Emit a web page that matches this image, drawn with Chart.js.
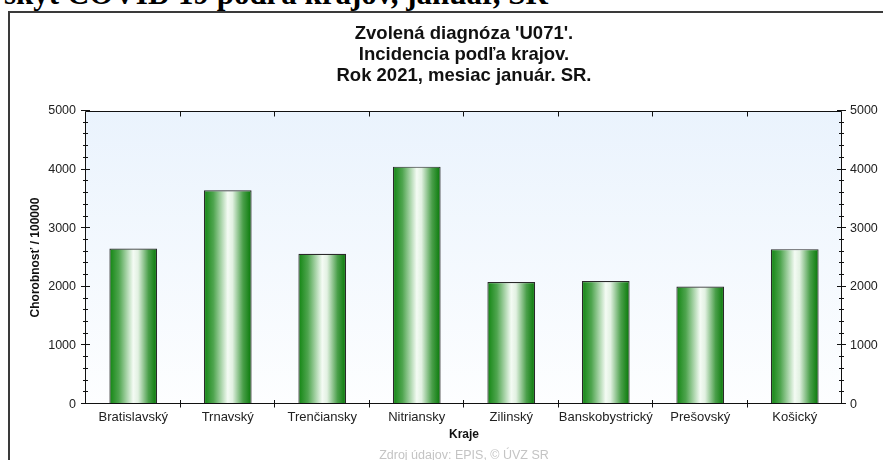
<!DOCTYPE html>
<html><head><meta charset="utf-8">
<script src="https://cdn.jsdelivr.net/npm/chart.js@4.4.1/dist/chart.umd.min.js"></script>
<style>
html,body{margin:0;padding:0;width:883px;height:460px;overflow:hidden;background:#fff;}
#heading{position:absolute;right:335px;top:-22px;font:bold 31px/31px "Liberation Serif","Times New Roman",serif;white-space:nowrap;color:#000;}
#frame{position:absolute;left:8px;top:11px;width:1000px;height:1000px;border:2px solid #3a3a3a;}
#wrap{position:absolute;left:0;top:0;width:883px;height:480px;}
canvas{display:block;}
</style></head><body>
<div id="heading">Výskyt COVID 19 podľa krajov, január, SR</div>
<div id="frame"></div>
<div id="wrap"><canvas id="c" width="883" height="480" style="width:883px;height:480px"></canvas></div>
<script>
const categories = ['Bratislavský','Trnavský','Trenčiansky','Nitriansky','Zilinský','Banskobystrický','Prešovský','Košický'];
const incidence = [2653, 3646, 2563, 4051, 2082, 2099, 2007, 2643];
const yTicks = [0, 1000, 2000, 3000, 4000, 5000];
const titleLines = ["Zvolená diagnóza 'U071'.", "Incidencia podľa krajov.", "Rok 2021, mesiac január. SR."];
const yTitle = 'Chorobnosť / 100000';
const xTitle = 'Kraje';
const sourceText = 'Zdroj údajov: EPIS, © ÚVZ SR';

const BAR_PCT = 0.505;
const MINOR_STEP = 200;

function barGradient(ctx) {
  const chart = ctx.chart;
  const area = chart.chartArea;
  if (!area || ctx.type !== 'data') return '#1a8a1a';
  const xs = chart.scales.x;
  const cx = xs.getPixelForValue(ctx.dataIndex);
  const w = (area.width / categories.length) * BAR_PCT;
  const g = chart.ctx.createLinearGradient(cx - w / 2, 0, cx + w / 2, 0);
  g.addColorStop(0, '#118511');
  g.addColorStop(0.2, '#4fa54f');
  g.addColorStop(0.5, '#f4fbf4');
  g.addColorStop(0.6, '#e2f1e2');
  g.addColorStop(0.82, '#4a9f4a');
  g.addColorStop(1, '#067806');
  return g;
}

const frame = {
  id: 'frame',
  beforeDatasetsDraw(chart) {
    const {ctx, chartArea: a} = chart;
    const g = ctx.createLinearGradient(0, a.top, 0, a.bottom);
    g.addColorStop(0, '#eaf3fd');
    g.addColorStop(1, '#fdfeff');
    ctx.save();
    ctx.fillStyle = g;
    ctx.fillRect(a.left, a.top, a.width, a.height);
    ctx.restore();
  },
  afterDatasetsDraw(chart) {
    const {ctx, chartArea: a, scales} = chart;
    const L = Math.round(a.left) - 0.5, R = Math.round(a.right) - 0.5;
    const T = Math.round(a.top) + 0.5, B = Math.round(a.bottom) - 0.5;
    ctx.save();
    ctx.strokeStyle = '#111';
    ctx.lineWidth = 1;
    ctx.beginPath();
    ctx.moveTo(L, T); ctx.lineTo(R, T); ctx.lineTo(R, B); ctx.lineTo(L, B); ctx.closePath();
    ctx.stroke();
    const ys = scales.y;
    const ymax = yTicks[yTicks.length - 1];
    ctx.beginPath();
    for (let v = 0; v <= ymax; v += MINOR_STEP) {
      const py = Math.round(ys.getPixelForValue(v)) - 0.5;
      const major = v % 1000 === 0;
      const o = major ? 4.5 : 2.5;
      ctx.moveTo(L - o, py); ctx.lineTo(L + o, py);
      ctx.moveTo(R - o, py); ctx.lineTo(R + o, py);
    }
    const xs = scales.x;
    for (let i = 1; i < categories.length; i++) {
      const px = Math.round((xs.getPixelForValue(i - 1) + xs.getPixelForValue(i)) / 2) - 0.5;
      ctx.moveTo(px, B - 3.5); ctx.lineTo(px, B + 4);
      ctx.moveTo(px, T); ctx.lineTo(px, T + 5);
    }
    ctx.stroke();
    ctx.restore();
  }
};

const plainTick = v => String(v);

new Chart(document.getElementById('c'), {
  type: 'bar',
  data: {
    labels: categories,
    datasets: [{
      data: incidence,
      backgroundColor: barGradient,
      borderColor: '#2a2a2a',
      borderWidth: 1.2,
      borderSkipped: false,
      barPercentage: BAR_PCT,
      categoryPercentage: 1
    }]
  },
  options: {
    responsive: false,
    animation: false,
    devicePixelRatio: 1,
    layout: {padding: {left: 0, right: 0, top: 0, bottom: 17.2}},
    plugins: {
      legend: {display: false},
      tooltip: {enabled: false},
      title: {
        display: true,
        fullSize: false,
        text: titleLines,
        color: '#111',
        font: {family: '"Liberation Sans", Arial, sans-serif', size: 18.5, weight: 'bold', lineHeight: 21 / 18.5},
        padding: {top: 23.5, bottom: 24.5}
      },
      subtitle: {
        display: true,
        position: 'bottom',
        fullSize: false,
        text: sourceText,
        color: '#c4c4c4',
        font: {family: '"Liberation Sans", Arial, sans-serif', size: 12.5, weight: 'normal', lineHeight: 1.2},
        padding: {top: 5.5, bottom: 0}
      }
    },
    scales: {
      x: {
        offset: true,
        grid: {display: false, drawTicks: false},
        border: {display: false},
        ticks: {color: '#222', padding: 6, maxRotation: 0, autoSkip: false,
          font: {family: '"Liberation Sans", Arial, sans-serif', size: 13}},
        title: {display: true, text: xTitle, color: '#111', padding: {top: 0, bottom: 0},
          font: {family: '"Liberation Sans", Arial, sans-serif', size: 12, weight: 'bold'}},
        afterFit(s) { s.height = 38.2; }
      },
      y: {
        position: 'left',
        min: 0, max: yTicks[yTicks.length - 1],
        afterBuildTicks(s) { s.ticks = yTicks.map(v => ({value: v})); },
        grid: {display: false, drawTicks: false},
        border: {display: false},
        ticks: {color: '#222', padding: 10, callback: plainTick,
          font: {family: '"Liberation Sans", Arial, sans-serif', size: 12.5}},
        title: {display: true, text: yTitle, color: '#111', padding: {top: 28.5, bottom: 0},
          font: {family: '"Liberation Sans", Arial, sans-serif', size: 12, weight: 'bold'}},
        afterFit(s) { s.width = 86; }
      },
      y2: {
        position: 'right',
        min: 0, max: yTicks[yTicks.length - 1],
        afterBuildTicks(s) { s.ticks = yTicks.map(v => ({value: v})); },
        grid: {display: false, drawTicks: false},
        border: {display: false},
        ticks: {color: '#222', padding: 8, callback: plainTick,
          font: {family: '"Liberation Sans", Arial, sans-serif', size: 12.5}},
        afterFit(s) { s.width = 41; }
      }
    }
  },
  plugins: [frame]
});
</script>
</body></html>
